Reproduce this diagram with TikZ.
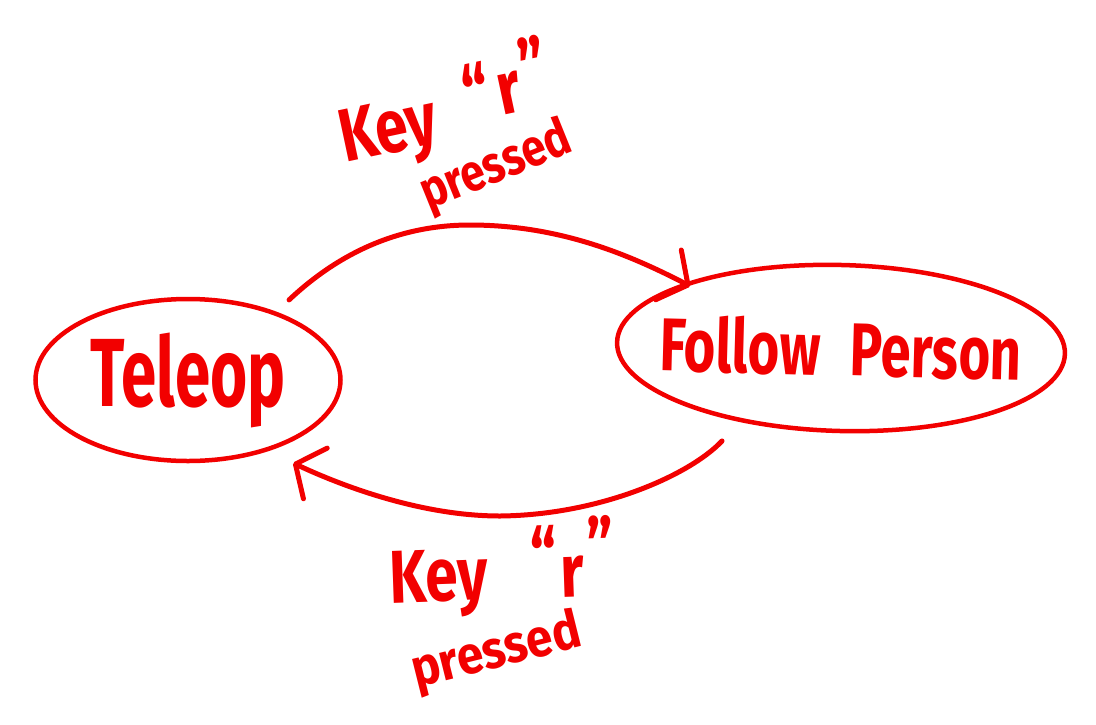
\documentclass[tikz,border=0pt]{standalone}
\usepackage{fontspec}
\setmainfont{Fira Sans}
\usetikzlibrary{shapes.geometric,arrows.meta,calc}
\definecolor{marker}{RGB}{242,0,0}
\newcommand{\hwtext}[2]{\scalebox{#1}[1]{#2}}
\newcommand{\zerowidth}[1]{\makebox[0pt]{#1}}
\begin{document}
\begin{tikzpicture}[x=1pt,y=-1pt,
  state/.style={ellipse,draw=marker,line width=4.5pt,inner sep=0pt,outer sep=0pt,text=marker},
  trans/.style={draw=marker,line width=5pt,line cap=round,
    -{Straight Barb[length=22pt,width=56pt,line width=5pt,round]}},
  lbl/.style={text=marker,inner sep=0pt,font=\bfseries}]
\useasboundingbox (0,0) rectangle (1096,724);
\fill[white] (0,0) rectangle (1096,724);
\node[state,minimum width=305pt,minimum height=162pt] (teleop) at (188,380)
  {\zerowidth{\resizebox*{195pt}{95pt}{\bfseries Teleop}}};
\node[state,minimum width=448pt,minimum height=166pt,rotate=-1.5] (follow) at (841,348)
  {\zerowidth{\resizebox*{362pt}{58pt}{\bfseries Follow\hspace{0.55em}Person}}};
% connectors
\draw[trans] ($(teleop.center)+(38.4:129pt)$)
  .. controls (340,252) and (400,225) .. (470,225)
  .. controls (560,225) and (630,255) .. ($(follow.center)+(157.7:163pt)$);
\draw[trans] ($(follow.center)+(218:151pt)$)
  .. controls (690,475) and (600,515) .. (500,516)
  .. controls (420,516) and (340,485) .. ($(teleop.center)+(-38.3:134pt)$);
% labels
\node[lbl,anchor=base west,rotate=12,font=\fontsize{75}{80}\selectfont\bfseries] (keytop) at (345,163)
  {\hwtext{0.78}{Key\hspace{0.55em}\raisebox{0.18em}{“\hspace{0.12em}r\hspace{0.08em}\raisebox{0.2em}{”}}}};
\node[lbl,anchor=base west,rotate=22,font=\fontsize{52}{58}\selectfont\bfseries] (pressedtop) at (428,210)
  {\hwtext{0.84}{pressed}};
\node[lbl,anchor=base west,rotate=2,font=\fontsize{75}{80}\selectfont\bfseries] (keybot) at (390,603)
  {\hwtext{0.78}{Key\hspace{0.75em}\raisebox{0.2em}{“}\hspace{0.05em}r\hspace{0.08em}\raisebox{0.3em}{”}}};
\node[lbl,anchor=base west,rotate=14,font=\fontsize{53}{58}\selectfont\bfseries] (pressedbot) at (416,688)
  {\hwtext{0.9}{pressed}};
\end{tikzpicture}
\end{document}
